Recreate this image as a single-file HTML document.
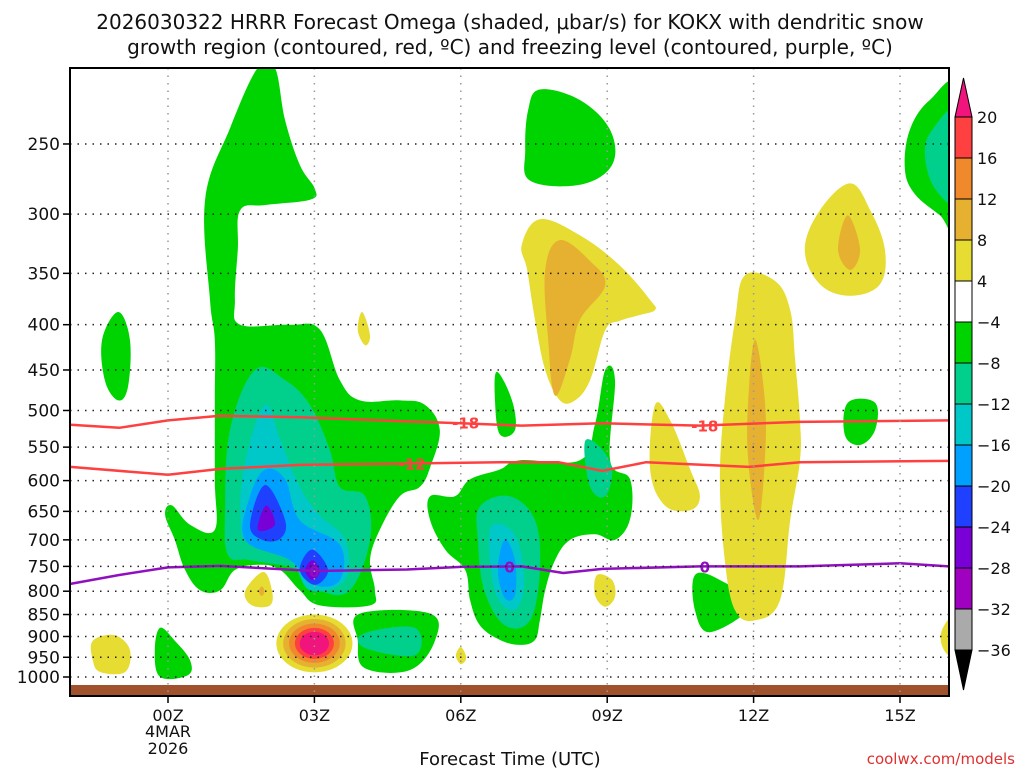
<!DOCTYPE html>
<html><head><meta charset="utf-8"><style>
html,body{margin:0;padding:0;background:#fff;}
svg{display:block;font-family:"DejaVu Sans","Liberation Sans",sans-serif;}
</style></head><body>
<svg id="chart" width="1024" height="768" viewBox="0 0 1024 768" xmlns="http://www.w3.org/2000/svg">
<rect width="1024" height="768" fill="#fff"/>
<text x="510" y="29" text-anchor="middle" font-size="20" fill="#111">2026030322 HRRR Forecast Omega (shaded, μbar/s) for KOKX with dendritic snow</text>
<text x="510" y="54" text-anchor="middle" font-size="20" fill="#111">growth region (contoured, red, ºC) and freezing level (contoured, purple, ºC)</text>
<defs><clipPath id="plotclip"><rect x="70" y="68" width="879" height="628"/></clipPath></defs>
<g id="fills" clip-path="url(#plotclip)"></g>
<g id="lines" clip-path="url(#plotclip)"></g>
<g id="grid"></g>
<rect x="70" y="68" width="879" height="628" fill="none" stroke="#000" stroke-width="2"/>
<g id="axes"></g>
<g id="cbar"></g>
<text x="510" y="765" text-anchor="middle" font-size="18" fill="#111">Forecast Time (UTC)</text>
<text x="1015" y="764" text-anchor="end" font-size="15" fill="#e03030">coolwx.com/models</text>
</svg>
<script>
const xTicks=[0,3,6,9,12,15];
const xTickLabels=["00Z","03Z","06Z","09Z","12Z","15Z"];
const pTicks=[250,300,350,400,450,500,550,600,650,700,750,800,850,900,950,1000];
const cbLevels=[20,16,12,8,4,-4,-8,-12,-16,-20,-24,-28,-32,-36];
const cbColors=["#ff4040","#f0882c","#e6b030","#e6dc32","#ffffff","#00d400","#00d08c","#00c8c8","#00a0ff","#2040ff","#7a00d8","#a000c0","#aaaaaa"];
const levelColor={"-4":"#00d400","-8":"#00d08c","-12":"#00c8c8","-16":"#00a0ff","-20":"#2040ff","-24":"#7a00d8","4":"#e6dc32","8":"#e6b030","12":"#f0882c","16":"#ff4040","20":"#f0147c"};
// omega regions: [level, [[hour,hPa],...]]
const omegaRegions=[
[-4,[[1.84,205],[2.19,205],[2.40,235],[2.70,264],[3.01,281],[2.91,289],[1.99,293],[1.48,297],[1.43,329],[1.37,375],[1.48,400],[2.5,400],[3.11,405],[3.52,462],[3.93,487],[4.75,487],[5.27,493],[5.57,526],[5.37,580],[5.16,610],[4.75,625],[4.34,682],[4.14,738],[4.24,798],[4.14,830],[3.11,830],[2.70,798],[2.30,757],[1.89,747],[1.37,757],[1.07,798],[0.66,798],[0.35,757],[0.14,700],[-0.06,656],[0.08,640],[0.45,673],[0.96,682],[0.96,598],[0.96,487],[0.96,416],[0.86,375],[0.76,289],[1.27,240]]],
[-4,[[5.37,625],[5.88,625],[6.19,598],[6.80,583],[7.21,569],[8.44,569],[8.75,518],[8.96,450],[9.16,462],[9.06,569],[9.47,598],[9.47,663],[9.16,700],[8.75,690],[8.24,700],[7.93,738],[7.73,798],[7.62,863],[7.52,908],[7.21,920],[6.80,908],[6.39,874],[6.19,819],[6.09,757],[5.68,718],[5.37,665]]],
[-4,[[6.74,452],[7.05,487],[7.11,526],[6.8,532],[6.70,487]]],
[-4,[[7.62,217],[8.44,223],[9.06,241],[9.10,264],[8.44,278],[7.42,275],[7.32,254],[7.38,229]]],
[-4,[[-1.02,387],[-0.78,416],[-0.82,470],[-1.02,487],[-1.29,463],[-1.35,416]]],
[-4,[[-0.16,880],[0.14,910],[0.45,957],[0.41,995],[-0.16,1000],[-0.27,932]]],
[-4,[[3.93,848],[5.37,848],[5.47,910],[4.96,982],[4.03,977],[3.89,910]]],
[-4,[[10.8,767],[11.31,777],[11.93,830],[11.11,890],[10.8,841]]],
[-4,[[13.93,490],[14.49,490],[14.49,526],[14.18,547],[13.87,533]]],
[-4,[[16.2,217],[15.61,223],[15.2,241],[15.1,267],[15.31,285],[15.82,301],[16.2,313]]],
[-8,[[16.2,229],[15.66,241],[15.51,257],[15.72,281],[16.2,289]]],
[-8,[[4.03,892],[5.06,880],[5.06,945],[4.03,927]]],
[-8,[[6.39,642],[7.0,625],[7.52,665],[7.62,757],[7.42,863],[6.9,874],[6.48,798],[6.35,700]]],
[-8,[[8.54,543],[8.85,550],[9.1,583],[8.96,625],[8.65,610]]],
[-8,[[1.78,450],[2.40,462],[2.91,493],[3.32,555],[3.52,610],[4.04,625],[4.14,700],[3.73,798],[3.11,798],[2.7,757],[1.68,738],[1.23,728],[1.17,648],[1.27,526]]],
[-12,[[1.99,493],[2.30,540],[2.70,610],[3.11,657],[3.63,700],[3.63,777],[2.91,798],[2.50,738],[1.68,709],[1.48,665],[1.58,572]]],
[-12,[[6.6,680],[7.1,690],[7.3,780],[7.1,840],[6.7,800]]],
[-16,[[1.99,583],[2.40,598],[2.7,665],[3.52,709],[3.52,777],[3.01,787],[2.5,738],[1.58,700],[1.68,625]]],
[-16,[[6.9,700],[7.11,738],[7.11,808],[6.9,814],[6.76,757]]],
[-20,[[1.99,607],[2.40,665],[2.30,698],[1.93,700],[1.68,673]]],
[-20,[[2.95,718],[3.28,757],[3.01,787],[2.70,757]]],
[-24,[[2.01,640],[2.19,673],[1.84,682]]],
[-24,[[2.97,738],[3.11,761],[2.95,777],[2.81,757]]],
[4,[[7.62,304],[8.44,317],[9.26,343],[9.88,375],[9.98,385],[9.67,390],[9.26,396],[8.96,406],[8.65,462],[8.34,487],[8.03,487],[7.73,450],[7.52,395],[7.36,347],[7.25,325]]],
[8,[[8.03,321],[8.65,339],[8.96,361],[8.44,395],[8.24,437],[7.93,481],[7.79,416],[7.73,347]]],
[4,[[11.82,352],[12.44,357],[12.75,385],[12.85,438],[12.95,513],[12.95,569],[12.75,665],[12.54,819],[12.03,863],[11.62,841],[11.41,738],[11.31,598],[11.41,487],[11.62,395]]],
[8,[[12.03,416],[12.23,487],[12.23,569],[12.09,665],[11.89,569],[11.89,487]]],
[4,[[13.98,277],[14.39,297],[14.69,329],[14.59,360],[13.98,371],[13.36,360],[13.05,329],[13.36,297]]],
[8,[[13.93,301],[14.18,329],[13.98,347],[13.73,329]]],
[4,[[9.98,493],[10.29,513],[10.7,583],[10.9,625],[10.7,648],[10.18,640],[9.88,583]]],
[4,[[3.98,387],[4.14,411],[4.04,422],[3.89,406]]],
[4,[[1.95,761],[2.13,798],[2.09,830],[1.72,830],[1.58,800]]],
[8,[[1.92,790],[1.98,800],[1.92,810],[1.86,800]]],
[4,[[-1.54,910],[-1.09,897],[-0.78,932],[-0.88,987],[-1.39,987],[-1.54,957]]],
[4,[[8.79,767],[9.1,777],[9.16,812],[8.96,833],[8.75,808]]],
[4,[[6.0,925],[6.11,951],[6.0,967],[5.9,946]]],
[4,[[16.2,846],[15.86,885],[15.9,932],[16.2,951]]]
];
// bullseye rings: [level, centerHour, halfWidthHours, topHPa, bottomHPa]
const bullseye=[[4,3.0,0.78,850,988],[8,3.0,0.64,860,976],[12,3.0,0.52,870,964],[16,3.0,0.40,880,954],[20,3.0,0.30,889,945]];
const hoursL18=[-2,-1,0,1.07,2.7,4.75,6,7.25,8.9,10.9,12.95,16];
const presL18=[519,523,513,507,509,514,517,520,517,520,515,513];
const hoursL12=[-2,0,1.07,2.7,4.75,6.8,8,8.9,9.8,11.9,12.95,16];
const presL12=[579,591,582,576,574,572,572,585,572,579,572,570];
const hoursL0=[-2,-1,0,1.07,3,4.9,6,7.25,8.1,8.9,10.9,12.95,15,16];
const presL0=[785,767,752,749,759,756,751,750,763,755,750,750,744,750];

const NS="http://www.w3.org/2000/svg";
const X=h=>168+h*48.8;
const Y=p=>677-384.5*Math.log(1000/p);
function mk(tag,attrs,parent){const e=document.createElementNS(NS,tag);for(const k in attrs)e.setAttribute(k,attrs[k]);parent.appendChild(e);return e;}
const fills=document.getElementById('fills'),lines=document.getElementById('lines'),grid=document.getElementById('grid'),axes=document.getElementById('axes'),cbar=document.getElementById('cbar');

function smoothPath(P){
  const n=P.length,t=0.18;let d=`M${P[0][0].toFixed(1)},${P[0][1].toFixed(1)}`;
  for(let i=0;i<n;i++){
    const p0=P[(i-1+n)%n],p1=P[i],p2=P[(i+1)%n],p3=P[(i+2)%n];
    const c1=[p1[0]+(p2[0]-p0[0])*t,p1[1]+(p2[1]-p0[1])*t];
    const c2=[p2[0]-(p3[0]-p1[0])*t,p2[1]-(p3[1]-p1[1])*t];
    d+=`C${c1[0].toFixed(1)},${c1[1].toFixed(1)} ${c2[0].toFixed(1)},${c2[1].toFixed(1)} ${p2[0].toFixed(1)},${p2[1].toFixed(1)}`;
  }
  return d+'Z';
}
omegaRegions.forEach(([lv,pts])=>{
  const e=mk('path',{d:smoothPath(pts.map(([h,p])=>[X(h),Y(p)])),fill:levelColor[lv]},fills);
  
  
});
bullseye.forEach(([lv,ch,hw,pt,pb])=>{
  const cx=X(ch),rx=hw*48.8,yt=Y(pt),yb=Y(pb);
  const e=mk('ellipse',{cx:cx,cy:(yt+yb)/2,rx:rx,ry:(yb-yt)/2,fill:levelColor[lv]},fills);
  
  
});
const g=mk('rect',{x:70,y:685,width:879,height:11,fill:'#a0522d'},fills);



function drawLine(hs,ps,color,name){
  const e=mk('polyline',{points:hs.map((h,i)=>X(h).toFixed(1)+','+Y(ps[i]).toFixed(1)).join(' '),fill:'none',stroke:color,'stroke-width':2.5,'stroke-linejoin':'round'},lines);
  
  
}
drawLine(hoursL18,presL18,'#ff4040','dgz-minus18-line');
drawLine(hoursL12,presL12,'#ff4040','dgz-minus12-line');
drawLine(hoursL0,presL0,'#9010c0','freezing-level-line');
function lab(txt,h,p,color,name){
  const x=X(h),y=Y(p);
  const t=mk('text',{x:x,y:y+6,'text-anchor':'middle','font-size':15,'font-weight':'bold',fill:color},lines);
  t.textContent=txt;
  
  
}
lab('-18',6.1,516,'#ff4040','contour-label-minus18');
lab('-18',11.0,520,'#ff4040','contour-label-minus18');
lab('-12',5.0,574,'#ff4040','contour-label-minus12');
lab('0',3.0,759,'#9010c0','contour-label-0');
lab('0',7.0,750,'#9010c0','contour-label-0');
lab('0',11.0,750,'#9010c0','contour-label-0');

pTicks.forEach(p=>{
  const y=Y(p);
  const l=mk('line',{x1:70,x2:949,y1:y,y2:y,stroke:'#222','stroke-width':1.5,'stroke-dasharray':'1.5 6'},grid);
  
  
  mk('line',{x1:63,x2:70,y1:y,y2:y,stroke:'#000','stroke-width':1.5},axes);
  const t=mk('text',{x:60,y:y+6,'text-anchor':'end','font-size':17,fill:'#111'},axes);
  t.textContent=p;
  
  
});
xTicks.forEach((h,i)=>{
  const x=X(h);
  const l=mk('line',{x1:x,x2:x,y1:68,y2:696,stroke:'#999','stroke-width':1.5,'stroke-dasharray':'1.5 6'},grid);
  
  
  mk('line',{x1:x,x2:x,y1:696,y2:703,stroke:'#000','stroke-width':1.5},axes);
  const t=mk('text',{x:x,y:721,'text-anchor':'middle','font-size':16,fill:'#111'},axes);
  t.textContent=xTickLabels[i];
  
  
});
[['4MAR',737],['2026',754]].forEach(([s,y])=>{
  const t=mk('text',{x:X(0),y:y,'text-anchor':'middle','font-size':16,fill:'#111'},axes);
  t.textContent=s;
  
  
});

const cbTop=117,cbStep=41,cx0=955,cw=17;
const tu=mk('polygon',{points:`${cx0},${cbTop} ${cx0+cw/2},${78} ${cx0+cw},${cbTop}`,fill:'#f0147c',stroke:'#000'},cbar);


cbColors.forEach((c,i)=>{
  const r=mk('rect',{x:cx0,y:cbTop+i*cbStep,width:cw,height:cbStep,fill:c,stroke:'#000','stroke-width':1},cbar);
  
  
});
const bot=cbTop+cbColors.length*cbStep;
const td=mk('polygon',{points:`${cx0},${bot} ${cx0+cw/2},${bot+40} ${cx0+cw},${bot}`,fill:'#000',stroke:'#000'},cbar);


cbLevels.forEach((v,i)=>{
  const t=mk('text',{x:977,y:cbTop+i*cbStep+6,'font-size':16,fill:'#111'},cbar);
  t.textContent=v<0?'\u2212'+(-v):String(v);
  
  
});
</script>
</body></html>
